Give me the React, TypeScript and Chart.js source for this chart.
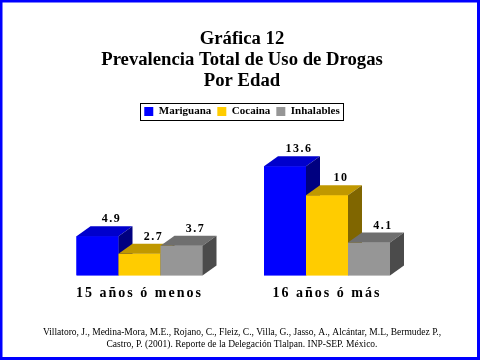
import React, { useEffect, useRef } from "react";
import { Chart, registerables } from "chart.js";

Chart.register(...registerables);

const categories = ["15 años ó menos", "16 años ó más"];
const seriesNames = ["Mariguana", "Cocaina", "Inhalables"];
const mariguana = [4.9, 13.6];
const cocaina = [2.7, 10];
const inhalables = [3.7, 4.1];
const titleLines = ["Gráfica 12", "Prevalencia Total de Uso de Drogas", "Por Edad"];
const footerLines = [
  "Villatoro, J., Medina-Mora, M.E., Rojano, C., Fleiz, C., Villa, G., Jasso, A., Alcántar, M.L, Bermudez P.,",
  "Castro, P. (2001). Reporte de la Delegación Tlalpan. INP-SEP. México.",
];

const frontColors = ["#0000FF", "#FFCC00", "#969696"];
const topColors = ["#0000CC", "#C09800", "#6F6F6F"];
const sideColors = ["#000080", "#806600", "#4B4B4B"];
const SERIF = "'Liberation Serif', 'Times New Roman', serif";
const DX = 14;
const DY = 10;

const bars3d = {
  id: "bars3d",
  afterDatasetsDraw(chart: any) {
    const ctx = chart.ctx;
    const metas = chart.data.datasets.map((_: any, i: number) => chart.getDatasetMeta(i));
    ctx.save();
    const n = categories.length;
    for (let c = 0; c < n; c++) {
      metas.forEach((meta: any, di: number) => {
        const el = meta.data[c];
        if (!el) return;
        const { x, y, base, width } = el.getProps(["x", "y", "base", "width"], true);
        const L = x - width / 2;
        const R = x + width / 2;
        ctx.fillStyle = frontColors[di];
        ctx.fillRect(L, y, width, base - y);
        ctx.fillStyle = topColors[di];
        ctx.beginPath();
        ctx.moveTo(L, y);
        ctx.lineTo(R, y);
        ctx.lineTo(R + DX, y - DY);
        ctx.lineTo(L + DX, y - DY);
        ctx.closePath();
        ctx.fill();
        ctx.fillStyle = sideColors[di];
        ctx.beginPath();
        ctx.moveTo(R, y);
        ctx.lineTo(R + DX, y - DY);
        ctx.lineTo(R + DX, base - DY);
        ctx.lineTo(R, base);
        ctx.closePath();
        ctx.fill();
      });
    }
    ctx.fillStyle = "#000";
    ctx.font = `bold 12px ${SERIF}`;
    ctx.textAlign = "center";
    ctx.textBaseline = "bottom";
    (ctx as any).letterSpacing = "1.5px";
    metas.forEach((meta: any, di: number) => {
      const values = chart.data.datasets[di].data;
      meta.data.forEach((el: any, c: number) => {
        const { x, y } = el.getProps(["x", "y"], true);
        ctx.fillText(String(values[c]), x + DX, y - DY - 1);
      });
    });
    ctx.restore();
    (ctx as any).letterSpacing = "2px";
  },
  afterDraw(chart: any) {
    const ctx = chart.ctx;
    (ctx as any).letterSpacing = "0px";
    ctx.save();
    const lg = chart.legend;
    if (lg && lg.legendHitBoxes && lg.legendHitBoxes.length) {
      const hb = lg.legendHitBoxes;
      const left = Math.min(...hb.map((h: any) => h.left)) - 4;
      const right = Math.max(...hb.map((h: any) => h.left + h.width)) + 4;
      const top = Math.min(...hb.map((h: any) => h.top)) - 3;
      const bottom = Math.max(...hb.map((h: any) => h.top + h.height)) + 3;
      ctx.strokeStyle = "#000";
      ctx.lineWidth = 1;
      ctx.strokeRect(Math.round(left) + 0.5, Math.round(top) + 0.5, Math.round(right - left), Math.round(bottom - top));
    }
    ctx.strokeStyle = "#0000FF";
    ctx.lineWidth = 3;
    ctx.strokeRect(1, 1, chart.width - 2.5, chart.height - 2.5);
    ctx.restore();
  },
};

const hiddenAxis = (position: string, w: number) => ({
  type: "linear" as const,
  position,
  display: true,
  grid: { display: false, drawTicks: false },
  border: { display: false },
  ticks: { display: false },
  afterFit: (scale: any) => {
    scale.width = w;
  },
});

export default function App() {
  const ref = useRef<HTMLCanvasElement>(null);
  useEffect(() => {
    const chart = new Chart(ref.current!, {
      type: "bar",
      data: {
        labels: categories,
        datasets: [
          { label: seriesNames[0], data: mariguana, backgroundColor: frontColors[0], borderWidth: 0 },
          { label: seriesNames[1], data: cocaina, backgroundColor: frontColors[1], borderWidth: 0 },
          { label: seriesNames[2], data: inhalables, backgroundColor: frontColors[2], borderWidth: 0 },
        ],
      },
      options: {
        responsive: false,
        animation: false,
        events: [],
        datasets: { bar: { categoryPercentage: 0.672, barPercentage: 1 } },
        layout: { padding: { left: 4, right: 0, top: 0, bottom: 0 } },
        scales: {
          x: {
            grid: { display: false, drawTicks: false },
            border: { display: false },
            ticks: { z: 1, padding: 10, color: "#000", font: { family: SERIF, size: 14, weight: "bold" } },
          },
          y: { ...hiddenAxis("left", 41.75), min: 0, max: 18.5 },
          y2: hiddenAxis("right", 59.25),
        } as any,
        plugins: {
          tooltip: { enabled: false },
          title: {
            display: true,
            text: titleLines,
            color: "#000",
            font: { family: SERIF, size: 18.7, weight: "bold", lineHeight: 1.123 },
            padding: { top: 29, bottom: 8 },
          },
          subtitle: {
            display: true,
            position: "bottom",
            text: footerLines,
            color: "#000",
            font: { family: SERIF, size: 9.5, weight: "normal", lineHeight: 1.25 },
            padding: { top: 14, bottom: 10 },
          },
          legend: {
            display: true,
            position: "top",
            labels: {
              boxWidth: 9,
              boxHeight: 9,
              padding: 6,
              color: "#000",
              font: { family: SERIF, size: 11, weight: "bold" },
            },
          },
        },
      },
      plugins: [bars3d],
    });
    return () => chart.destroy();
  }, []);
  return (
    <div style={{ position: "fixed", left: 0, top: 0, width: 480, height: 360, background: "#fff" }}>
      <canvas ref={ref} width={480} height={360} style={{ width: 480, height: 360, display: "block" }} />
    </div>
  );
}
